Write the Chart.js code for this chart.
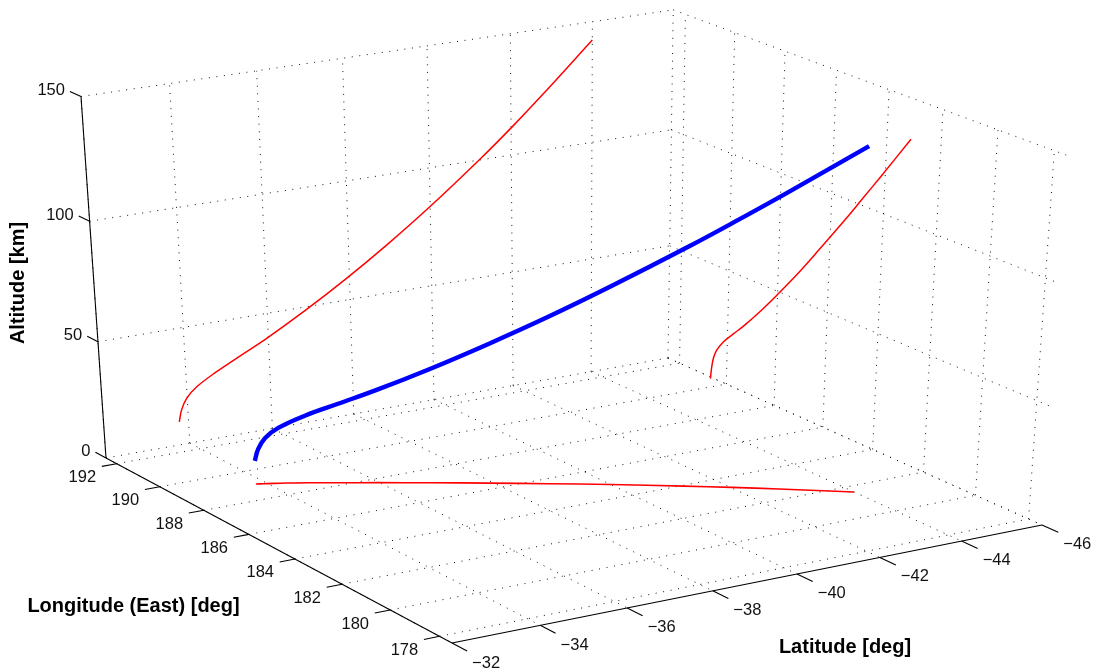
<html>
<head>
  <title>Trajectory</title>
  <style>
    body { margin: 0; background: white; }
    canvas { display: block; }
  </style>
</head>
<body>

<canvas id="trajectory" width="1094" height="672"></canvas>

<script src="https://cdn.jsdelivr.net/npm/chart.js@4"></script>
<script>

const latTicks = [-32, -34, -36, -38, -40, -42, -44, -46];
const lonTicks = [192, 190, 188, 186, 184, 182, 180, 178];
const altTicks = [0, 50, 100, 150];

// trajectory
const lat = [-33.78, -33.85, -33.99, -34.24, -34.73, -35.30, -35.96, -36.91, -37.93, -38.92, -39.99, -41.23, -42.02, -42.79, -44.00];
const lon = [189.06, 189.02, 188.95, 188.82, 188.54, 188.16, 187.73, 187.09, 186.39, 185.68, 184.90, 183.94, 183.31, 182.66, 181.61];
const alt = [10, 15, 19.7, 23.8, 28.8, 33.8, 39.4, 48.5, 59.2, 70.5, 83.7, 100.3, 111.6, 123.3, 142.5];

// box limits and the planes the red shadows sit on
const latNear = -32, latFar = -46;
const lonBack = 192.5, lonFront = 177.5;
const altMax = 150;
const latShadow = -45;

// perspective view of the box
function project(la, lo, al) {
  const u = (la - latNear) / (latFar - latNear);
  const v = (lonBack - lo) / (lonBack - lonFront);
  const w = al / altMax;
  const d = 1 + 0.05128 * u - 0.07996 * v - 0.0515 * w;
  return {
    x: (106 + 596.26 * u + 309.86 * v - 29.17 * w) / d,
    y: (458 - 81.64 * u + 133.59 * v - 366.47 * w) / d,
  };
}

function seg(a, b) {
  return [project(a[0], a[1], a[2]), project(b[0], b[1], b[2])];
}

function line(data, color, width, order, dash, tension) {
  return {
    data: data,
    showLine: true,
    borderColor: color,
    borderWidth: width,
    borderDash: dash || [],
    tension: tension || 0,
    pointRadius: 0,
    order: order,
    borderCapStyle: 'butt',
  };
}

const datasets = [];

function grid(a, b) {
  datasets.push(line(seg(a, b), '#111', 1, 5, [1, 6.6]));
}

// floor
latTicks.forEach(la => grid([la, lonBack, 0], [la, lonFront, 0]));
lonTicks.forEach(lo => grid([latNear, lo, 0], [latFar, lo, 0]));
// wall behind the altitude axis
latTicks.forEach(la => grid([la, lonBack, 0], [la, lonBack, altMax]));
altTicks.forEach(al => grid([latNear, lonBack, al], [latFar, lonBack, al]));
// right wall
lonTicks.forEach(lo => grid([latFar, lo, 0], [latFar, lo, altMax]));
altTicks.forEach(al => grid([latFar, lonBack, al], [latFar, lonFront, al]));

// axes
function axis(a, b) {
  datasets.push(line(seg(a, b), '#000', 1.1, 4));
}
axis([latNear, lonBack, 0], [latNear, lonBack, altMax]);
axis([latNear, lonBack, 0], [latNear, lonFront, 0]);
axis([latNear, lonFront, 0], [latFar, lonFront, 0]);

// tick marks
const altTickEnd = al => project(latNear, lonBack + 0.5, al);
const lonTickEnd = lo => project(latNear + 0.35, lo, 0);
const latTickEnd = la => project(la, lonFront - 0.6, 0);
altTicks.forEach(al => axis([latNear, lonBack, al], [latNear, lonBack + 0.5, al]));
lonTicks.forEach(lo => axis([latNear, lo, 0], [latNear + 0.35, lo, 0]));
latTicks.forEach(la => axis([la, lonFront, 0], [la, lonFront - 0.6, 0]));

// shadows and the trajectory itself
datasets.push(line(lat.map((la, i) => project(la, lonBack, alt[i])), '#ff0000', 1.5, 1, [], 0.4));
datasets.push(line(lat.map((la, i) => project(latShadow, lon[i], alt[i])), '#ff0000', 1.5, 1, [], 0.4));
datasets.push(line(lat.map((la, i) => project(la, lon[i], 0)), '#ff0000', 1.6, 1, [], 0.4));
datasets.push(line(lat.map((la, i) => project(la, lon[i], alt[i])), '#0000ff', 4.4, 0, [], 0.4));

const textPlugin = {
  id: 'text3d',
  afterDraw(chart) {
    const ctx = chart.ctx;
    ctx.save();
    ctx.fillStyle = '#111';
    ctx.font = '16.5px "Liberation Sans"';
    ctx.textBaseline = 'middle';

    ctx.textAlign = 'right';
    altTicks.forEach(al => {
      const p = altTickEnd(al);
      ctx.fillText(String(al), p.x - 5, p.y - 1);
    });

    ctx.textAlign = 'center';
    lonTicks.forEach(lo => {
      const p = lonTickEnd(lo);
      ctx.fillText(String(lo), p.x - 19.5, p.y + 11);
    });
    latTicks.forEach(la => {
      const p = latTickEnd(la);
      ctx.fillText('\u2212' + Math.abs(la), p.x + 19, p.y + 12);
    });

    ctx.fillStyle = '#000';
    ctx.font = 'bold 20px "Liberation Sans"';
    ctx.fillText('Longitude (East) [deg]', 133.5, 606);
    ctx.fillText('Latitude [deg]', 845, 647);
    ctx.translate(18, 283);
    ctx.rotate(-Math.PI / 2);
    ctx.fillText('Altitude [km]', 0, 0);
    ctx.restore();
  }
};

new Chart(document.getElementById('trajectory'), {
  type: 'scatter',
  data: { datasets: datasets },
  plugins: [textPlugin],
  options: {
    responsive: false,
    animation: false,
    layout: { padding: 0 },
    plugins: { legend: { display: false }, tooltip: { enabled: false } },
    scales: {
      x: { type: 'linear', min: 0, max: 1094, display: false },
      y: { type: 'linear', min: 0, max: 672, reverse: true, display: false },
    },
  },
});

</script>

</body>
</html>
